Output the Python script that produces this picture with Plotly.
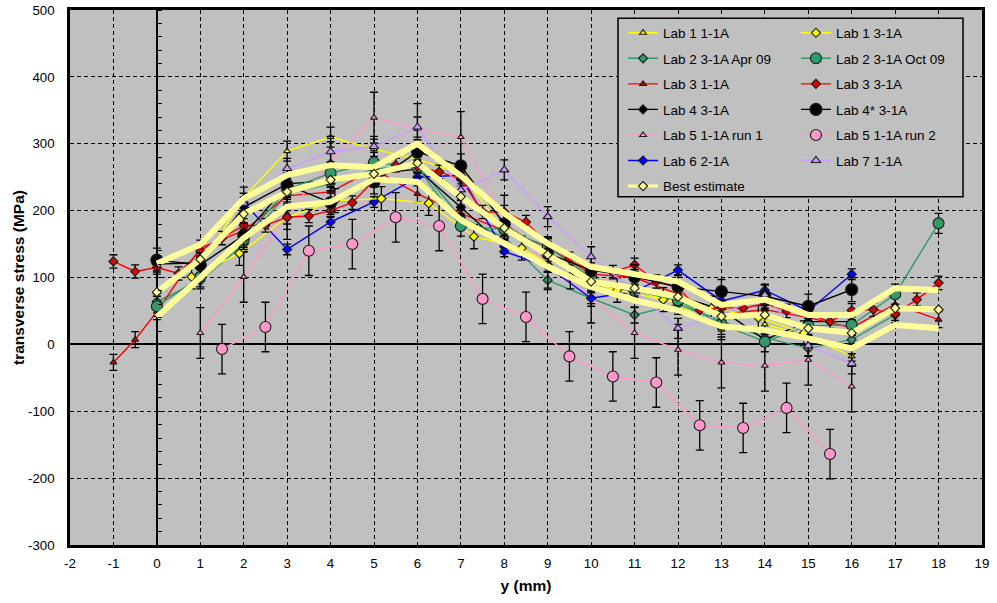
import plotly.graph_objects as go

# ---------------- data ----------------
lab1_11_x = [1, 2, 3, 4, 5, 6, 7, 8, 9, 10, 11, 12, 13, 14, 15, 16]
lab1_11_y = [118, 220, 289, 310, 292, 277, 255, 170, 135, 100, 82, 60, 22, 30, 12, -18]

lab1_31_x = [0.8, 1.9, 3.0, 4.1, 5.17, 6.26, 7.3, 8.4, 9.52, 10.6, 11.66, 12.77, 13.85, 14.9]
lab1_31_y = [101, 136, 190, 215, 218, 211, 161, 144, 101, 81, 67, 54, 40, 17]

lab2_apr_x = [0, 1, 2, 3, 4, 5, 6, 7, 8, 9, 10, 11, 12, 13, 14, 15, 16, 17]
lab2_apr_y = [64, 95, 150, 225, 240, 262, 268, 190, 160, 96, 69, 44, 60, 35, 10, -6, 7, 44]

lab2_oct_x = [0, 1, 2, 3, 4, 5, 6, 7, 8, 9, 10, 11, 12, 13, 14, 15, 16, 17, 18]
lab2_oct_y = [57, 101, 157, 232, 256, 272, 265, 177, 172, 146, 100, 80, 66, 30, 4, 28, 29, 75, 181]

lab3_11_x = [-1, -0.5, 0, 1, 2, 3, 4, 5, 6, 7, 8, 9, 10, 11, 12, 13, 14, 15, 16, 17, 18]
lab3_11_y = [-27, 7, 49, 144, 170, 222, 228, 262, 225, 196, 170, 146, 105, 100, 75, 45, 52, 40, 25, 60, 37]

lab3_31_x = [-1, -0.5, 0, 0.5, 1, 1.5, 2, 2.5, 3, 3.5, 4, 4.5, 5, 5.5, 6, 6.5, 7, 7.5, 8, 8.5,
             9, 9.5, 10, 10.5, 11, 11.5, 12, 12.5, 13, 13.5, 14, 14.5, 15, 15.5, 16, 16.5, 17, 17.5, 18]
lab3_31_y = [124, 109, 115, 106, 140, 159, 178, 178, 190, 192, 200, 212, 245, 268, 266, 258, 247, 198, 198, 183,
             150, 128, 112, 108, 119, 94, 85, 51, 55, 54, 61, 50, 45, 34, 51, 52, 46, 67, 92]

lab4_x = [0, 1, 2, 3, 4, 5, 6, 7, 8, 9, 10, 11, 12, 13, 14, 15, 16]
lab4_y = [120, 122, 205, 240, 245, 255, 262, 205, 146, 119, 89, 80, 72, 52, 7, 34, 34]

lab4s_x = [0, 1, 2, 3, 4, 5, 6, 7, 8, 9, 10, 11, 12, 13, 14, 15, 16]
lab4s_y = [126, 119, 163, 238, 212, 243, 288, 267, 180, 136, 111, 101, 86, 79, 72, 57, 82]

lab5_r1_x = [1, 2, 3, 4, 5, 6, 7, 8, 9, 10, 11, 12, 13, 14, 15, 16]
lab5_r1_y = [17, 101, 195, 273, 339, 322, 310, 185, 120, 70, 17, -8, -27, -32, -23, -63]

lab5_r2_x = [1.5, 2.5, 3.5, 4.5, 5.5, 6.5, 7.5, 8.5, 9.5, 10.5, 11.5, 12.5, 13.5, 14.5, 15.5]
lab5_r2_y = [-7, 26, 140, 150, 190, 177, 68, 41, -18, -48, -57, -121, -125, -95, -164]

lab6_x = [2, 3, 4, 5, 6, 7, 8, 9, 10, 11, 12, 13, 14, 15, 16]
lab6_y = [212, 142, 183, 213, 250, 253, 139, 116, 69, 79, 111, 65, 81, 50, 105]

lab7_x = [2, 3, 4, 5, 6, 7, 8, 9, 10, 11, 12, 13, 14, 15, 16]
lab7_y = [211, 263, 288, 296, 325, 231, 261, 191, 131, 80, 24, 45, 74, -2, -29]

best_x = [0, 1, 2, 3, 4, 5, 6, 7, 8, 9, 10, 11, 12, 13, 14, 15, 16, 17, 18]
best_mid = [78, 127, 195, 228, 246, 255, 271, 221, 174, 134, 94, 84, 71, 42, 44, 24, 17, 54, 52]
best_upper = [121, 149, 218, 253, 268, 265, 300, 252, 196, 151, 116, 106, 94, 59, 67, 44, 44, 84, 81]
best_lower = [41, 99, 159, 206, 213, 247, 243, 186, 151, 116, 86, 66, 51, 27, 21, 9, -6, 29, 24]

x_ticks = list(range(-2, 20))
y_ticks = list(range(-300, 501, 100))

# ---------------- styles ----------------
YEL = "#FFFF00"
GRN = "#339966"
RED = "#FF0000"
BLK = "#000000"
PNK = "#FF99CC"
BLU = "#0000FF"
LAV = "#CC99FF"
PALE = "#FFFF99"
FONT = "Liberation Sans, Arial, sans-serif"
EDGE = "#1a1a1a"

fig = go.Figure()


def add(name, xs, ys, color, symbol, size, fill, err, legend, lw=1.4):
    fig.add_trace(go.Scatter(
        x=xs, y=ys, name=name, mode="lines+markers",
        line=dict(color=color, width=lw),
        marker=dict(symbol=symbol, size=size, color=fill,
                    line=dict(color=EDGE, width=1.1)),
        error_y=dict(type="constant", value=err, color="black",
                     thickness=1.3, width=4),
        legend=legend, legendgroup=name,
    ))


# left legend column
add("Lab 1 1-1A", lab1_11_x, lab1_11_y, YEL, "triangle-up", 6, YEL, 15, "legend")
add("Lab 2 3-1A Apr 09", lab2_apr_x, lab2_apr_y, GRN, "diamond", 7, GRN, 12, "legend")
add("Lab 3 1-1A", lab3_11_x, lab3_11_y, RED, "triangle-up", 6, "#CC0000", 12, "legend")
add("Lab 4 3-1A", lab4_x, lab4_y, BLK, "diamond", 7, BLK, 10, "legend")
add("Lab 5 1-1A run 1", lab5_r1_x, lab5_r1_y, PNK, "triangle-up", 6, PNK, 38, "legend")
add("Lab 6 2-1A", lab6_x, lab6_y, BLU, "diamond", 7, BLU, 8, "legend")
# right legend column
add("Lab 1 3-1A", lab1_31_x, lab1_31_y, YEL, "diamond", 7, YEL, 18, "legend2")
add("Lab 2 3-1A Oct 09", lab2_oct_x, lab2_oct_y, GRN, "circle", 11, GRN, 15, "legend2")
add("Lab 3 3-1A", lab3_31_x, lab3_31_y, RED, "diamond", 7, "#DD0000", 10, "legend2")
add("Lab 4* 3-1A", lab4s_x, lab4s_y, BLK, "circle", 12, BLK, 18, "legend2")
add("Lab 5 1-1A run 2", lab5_r2_x, lab5_r2_y, PNK, "circle", 11, PNK, 37, "legend2")
add("Lab 7 1-1A", lab7_x, lab7_y, LAV, "triangle-up", 8, LAV, 15, "legend2")

# best estimate with bounds
for bound in (best_upper, best_lower):
    fig.add_trace(go.Scatter(
        x=best_x, y=bound, mode="lines", line=dict(color=PALE, width=6),
        showlegend=False, hoverinfo="skip"))
fig.add_trace(go.Scatter(
    x=best_x, y=best_mid, name="Best estimate", mode="lines+markers",
    line=dict(color=PALE, width=6),
    marker=dict(symbol="diamond", size=7, color=PALE, line=dict(color=EDGE, width=1.1)),
    showlegend=False))
# legend entry for best estimate (thin sample line as in the original key)
fig.add_trace(go.Scatter(
    x=[None], y=[None], name="Best estimate", mode="lines+markers",
    line=dict(color=PALE, width=3),
    marker=dict(symbol="diamond", size=7, color=PALE, line=dict(color=EDGE, width=1.1)),
    legend="legend", legendgroup="best", hoverinfo="skip"))

# helper trace for minor ticks on the x=0 crossing axis
fig.add_trace(go.Scatter(x=[None], y=[None], yaxis="y2", showlegend=False, hoverinfo="skip"))

axis_common = dict(
    showgrid=True, gridcolor="black", gridwidth=1, griddash="4px,3px",
    zeroline=True, zerolinecolor="black", zerolinewidth=1.5,
    showline=True, mirror=True, linecolor="black", linewidth=2.5,
    ticks="", tickfont=dict(family=FONT, size=13.3, color="black"),
    automargin=False,
)

fig.update_layout(
    width=997, height=603,
    margin=dict(l=70, r=15, t=10, b=58, autoexpand=False),
    paper_bgcolor="white", plot_bgcolor="#C0C0C0",
    font=dict(family=FONT, color="black"),
    xaxis=dict(range=[-2, 19], tickmode="array", tickvals=x_ticks,
               ticktext=[str(v) for v in x_ticks], ticklabelstandoff=4,
               title=dict(text="<b>y (mm)</b>", font=dict(family=FONT, size=15.5), standoff=11),
               **axis_common),
    yaxis=dict(range=[-300, 500], tickmode="array", tickvals=y_ticks,
               ticktext=[str(v) for v in y_ticks], ticklabelstandoff=10,
               title=dict(text="<b>transverse stress (MPa)</b>", font=dict(family=FONT, size=15.5), standoff=0),
               **axis_common),
    yaxis2=dict(overlaying="y", anchor="free", position=2 / 21, side="right",
                range=[-300, 500], tickmode="linear", tick0=0, dtick=20,
                ticks="outside", ticklen=4, tickcolor="black", tickwidth=1,
                showticklabels=False, showgrid=False, zeroline=False, showline=False,
                automargin=False),
    legend=dict(x=0.6064, y=0.986, xanchor="left", yanchor="top",
                bgcolor="rgba(0,0,0,0)", borderwidth=0, traceorder="grouped",
                tracegroupgap=5, font=dict(family=FONT, size=13.5, color="black")),
    legend2=dict(x=0.796, y=0.986, xanchor="left", yanchor="top",
                 bgcolor="rgba(0,0,0,0)", borderwidth=0, traceorder="grouped",
                 tracegroupgap=5, font=dict(family=FONT, size=13.5, color="black")),
    shapes=[dict(type="rect", xref="paper", yref="paper",
                 x0=0.6009, x1=0.9792, y0=0.651, y1=0.9845,
                 line=dict(color="black", width=1.5), fillcolor="#C0C0C0", layer="above")],
    showlegend=True,
)

fig.write_html("out.html")
